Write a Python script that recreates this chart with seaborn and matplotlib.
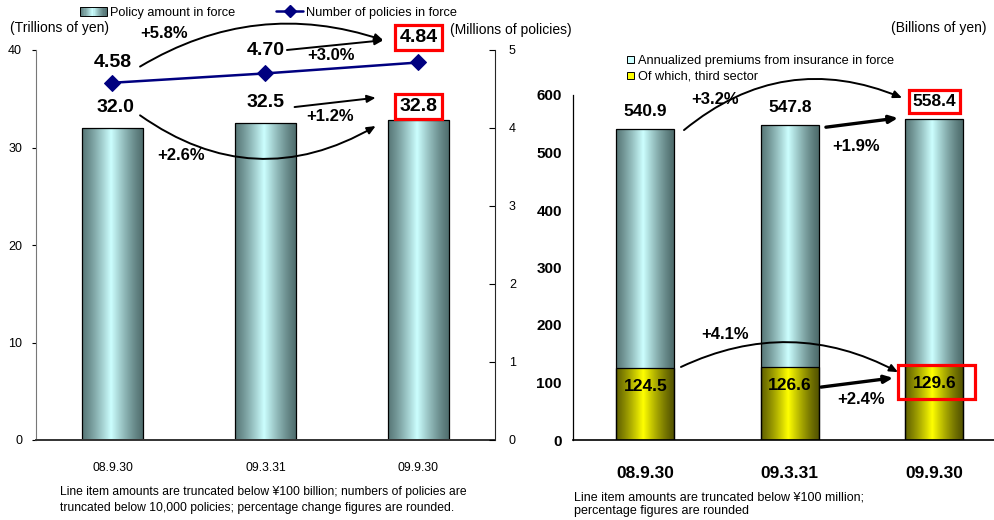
import numpy as np
import pandas as pd
import matplotlib
matplotlib.use('Agg')
import matplotlib.pyplot as plt
import seaborn as sns
from matplotlib.patches import Rectangle, Patch
from matplotlib.lines import Line2D
from matplotlib.legend_handler import HandlerBase
from matplotlib.colors import to_rgb

# data
dates = ['08.9.30', '09.3.31', '09.9.30']
policy_amount = [32.0, 32.5, 32.8]        # trillions of yen
policy_count = [4.58, 4.70, 4.84]         # millions of policies
annual_premiums = [540.9, 547.8, 558.4]   # billions of yen
third_sector = [124.5, 126.6, 129.6]      # billions of yen
amount_changes = ['+2.6%', '+1.2%']       # from 08.9.30, from 09.3.31
count_changes = ['+5.8%', '+3.0%']
premium_changes = ['+3.2%', '+1.9%']
third_changes = ['+4.1%', '+2.4%']

TEAL_DARK, TEAL_LIGHT = '#4f6d6d', '#ccffff'
YEL_DARK, YEL_LIGHT = '#555500', '#ffff00'

sns.set_style('white')
plt.rcParams['font.family'] = ['Liberation Sans', 'DejaVu Sans']
for k in ['text.color', 'axes.labelcolor', 'xtick.color', 'ytick.color']:
    plt.rcParams[k] = 'black'


def shade(t, dark, light):
    # light band a little left of centre, dark at both edges
    w = np.clip(1 - np.abs((t - 0.47) / 0.53), 0, 1) ** 1.25
    d, l = np.array(to_rgb(dark)), np.array(to_rgb(light))
    return d[None, :] * (1 - w[:, None]) + l[None, :] * w[:, None]


def gradient_bars(ax, patches, dark, light):
    for p in patches:
        x0, y0, w, h = p.get_x(), p.get_y(), p.get_width(), p.get_height()
        grad = shade(np.linspace(0, 1, 200), dark, light)[None, :, :]
        im = ax.imshow(grad, extent=[x0, x0 + w, y0, y0 + h], aspect='auto',
                       zorder=p.get_zorder(), interpolation='bilinear')
        im.set_clip_path(p)
        p.set_facecolor('none')
        p.set_edgecolor('black')
        p.set_linewidth(0.9)
        p.set_zorder(p.get_zorder() + 0.1)


class GradientHandler(HandlerBase):
    def __init__(self, dark, light, **kw):
        super().__init__(**kw)
        self.dark, self.light = dark, light

    def create_artists(self, legend, orig_handle, xdescent, ydescent,
                       width, height, fontsize, trans):
        n = 24
        cols = shade((np.arange(n) + 0.5) / n, self.dark, self.light)
        arts = [Rectangle((-xdescent + i * width / n, -ydescent), width / n, height,
                          facecolor=cols[i], edgecolor='none', transform=trans)
                for i in range(n)]
        arts.append(Rectangle((-xdescent, -ydescent), width, height, facecolor='none',
                              edgecolor='black', lw=0.7, transform=trans))
        return arts


def arrow(ax, start, end, rad=0.0, lw=1.4):
    ax.annotate('', xy=end, xytext=start, annotation_clip=False,
                arrowprops=dict(arrowstyle='-|>,head_length=0.5,head_width=0.22',
                                connectionstyle=f'arc3,rad={rad}', color='black',
                                lw=lw, shrinkA=0, shrinkB=0))


red_box = dict(boxstyle='square,pad=0.22', facecolor='white', edgecolor='#ff0000', lw=2.3)

fig = plt.figure(figsize=(9.95, 5.2), dpi=100)

# ---------------- left chart ----------------
ax1 = fig.add_axes([36 / 995, 80 / 520, 459 / 995, 390 / 520])
df_left = pd.DataFrame({'date': dates, 'amount': policy_amount, 'count': policy_count})
sns.barplot(data=df_left, x='date', y='amount', ax=ax1, width=0.4, color=TEAL_LIGHT)
gradient_bars(ax1, ax1.patches, TEAL_DARK, TEAL_LIGHT)
ax1.set_xlim(-0.5, 2.5)
ax1.set_ylim(0, 40)
ax1.set_yticks([0, 10, 20, 30, 40])
ax1.set_xlabel('')
ax1.set_ylabel('')
ax1.tick_params(axis='y', labelsize=9, length=3, direction='out', pad=7)
ax1.tick_params(axis='x', labelsize=8.7, length=0, pad=16)
ax1.set_xticks([0.5, 1.5], minor=True)
ax1.tick_params(axis='x', which='minor', direction='in', length=5, width=0.8, color='#333333')
for s in ['top', 'right']:
    ax1.spines[s].set_visible(False)
ax1.spines['left'].set_color('#777777')
ax1.spines['left'].set_linewidth(0.8)
ax1.spines['bottom'].set_color('#333333')
ax1.spines['bottom'].set_linewidth(1.4)

ax2 = ax1.twinx()
sns.lineplot(x=np.arange(len(dates)), y=df_left['count'], ax=ax2, color='#000080',
             marker='D', markersize=8, markeredgecolor='#000080', linewidth=1.8)
ax2.set_ylim(0, 5)
ax2.set_xlim(-0.5, 2.5)
ax2.set_ylabel('')
ax2.tick_params(axis='y', labelsize=9, length=4, direction='in', pad=10)
for s in ['top', 'left', 'bottom']:
    ax2.spines[s].set_visible(False)
ax2.spines['right'].set_linewidth(0.8)

# value labels
for i, v in enumerate(policy_amount):
    off = 10 if i == 2 else 14.5
    ax1.annotate(f'{v:.1f}', xy=(i, v), xytext=(2 if i == 0 else 0, off),
                 textcoords='offset points', ha='center', va='center',
                 fontsize=14, fontweight='bold', annotation_clip=False,
                 bbox=red_box if i == 2 else None)
for i, v in enumerate(policy_count):
    off = [14.5, 16.5, 18][i]
    ax2.annotate(f'{v:.2f}', xy=(i, v), xytext=(0, off), textcoords='offset points',
                 ha='center', va='center', fontsize=14, fontweight='bold',
                 annotation_clip=False, bbox=red_box if i == 2 else None)

# change arrows (left axes data coords)
arrow(ax1, (0.18, 38.3), (1.77, 41.0), rad=-0.23)
arrow(ax1, (1.14, 40.0), (1.77, 41.0))
arrow(ax1, (1.19, 34.15), (1.72, 35.1))
arrow(ax1, (0.18, 33.3), (1.72, 32.2), rad=0.32)
pct_kw = dict(ha='center', va='center', fontsize=12, fontweight='bold')
ax1.text(0.337, 41.7, count_changes[0], **pct_kw)
ax1.text(1.43, 39.4, count_changes[1], **pct_kw)
ax1.text(1.42, 33.2, amount_changes[1], **pct_kw)
ax1.text(0.45, 29.2, amount_changes[0], **pct_kw)

fig.legend(handles=[Patch(facecolor=TEAL_LIGHT),
                    Line2D([], [], color='#000080', marker='D', markersize=6, lw=1.8)],
           labels=['Policy amount in force', 'Number of policies in force'],
           handler_map={Patch: GradientHandler(TEAL_DARK, TEAL_LIGHT)},
           loc='center left', bbox_to_anchor=(80 / 995, 1 - 13 / 520), ncol=2,
           frameon=False, fontsize=9.2, handlelength=2.1, handleheight=0.75,
           handletextpad=0.25, columnspacing=3.2, borderpad=0, borderaxespad=0)

fig.text(10 / 995, 1 - 28 / 520, '(Trillions of yen)', fontsize=10, va='center')
fig.text(450 / 995, 1 - 30 / 520, '(Millions of policies)', fontsize=10, va='center')
fig.text(60 / 995, 1 - 500 / 520,
         'Line item amounts are truncated below \u00a5100 billion; numbers of policies are\n'
         'truncated below 10,000 policies; percentage change figures are rounded.',
         fontsize=8.7, va='center', linespacing=1.35)

# ---------------- right chart ----------------
ax3 = fig.add_axes([573 / 995, 80 / 520, 422 / 995, 345 / 520])
df_right = pd.DataFrame({'date': dates, 'premiums': annual_premiums, 'third': third_sector})
sns.barplot(data=df_right, x='date', y='premiums', ax=ax3, width=0.4, color=TEAL_LIGHT)
n_first = len(ax3.patches)
sns.barplot(data=df_right, x='date', y='third', ax=ax3, width=0.4, color=YEL_LIGHT)
gradient_bars(ax3, ax3.patches[:n_first], TEAL_DARK, TEAL_LIGHT)
gradient_bars(ax3, ax3.patches[n_first:], YEL_DARK, YEL_LIGHT)
ax3.set_xlim(-0.5, 2.42)
ax3.set_ylim(0, 600)
ax3.set_yticks(range(0, 601, 100))
ax3.set_xlabel('')
ax3.set_ylabel('')
ax3.tick_params(axis='y', labelsize=11, length=4, direction='out', pad=4)
ax3.tick_params(axis='x', labelsize=12.5, length=0, pad=19)
for lab in ax3.get_xticklabels() + ax3.get_yticklabels():
    lab.set_fontweight('bold')
ax3.set_xticks([0.5, 1.5], minor=True)
ax3.tick_params(axis='x', which='minor', direction='in', length=5, width=0.8)
for s in ['top', 'right']:
    ax3.spines[s].set_visible(False)
ax3.spines['left'].set_linewidth(0.9)
ax3.spines['bottom'].set_linewidth(1.2)
ax3.spines['left'].set_color('black')
ax3.spines['bottom'].set_color('black')

for i, v in enumerate(annual_premiums):
    ax3.annotate(f'{v:.1f}', xy=(i, v), xytext=(0, 12.5), textcoords='offset points',
                 ha='center', va='center', fontsize=12.5, fontweight='bold',
                 annotation_clip=False, bbox=red_box if i == 2 else None)
for i, v in enumerate(third_sector):
    ax3.annotate(f'{v:.1f}', xy=(i, v), xytext=(0, -13), textcoords='offset points',
                 ha='center', va='center', fontsize=12.5, fontweight='bold',
                 annotation_clip=False, zorder=5)
# red frame around the latest third-sector figure (wider than the bar)
last = len(third_sector) - 1
ax3.add_patch(Rectangle((last - 0.251, third_sector[-1] - 58), 0.533, 59,
                        facecolor='none', edgecolor='#ff0000', lw=2.3, zorder=6,
                        clip_on=False))

arrow(ax3, (0.268, 539), (1.777, 595), rad=-0.3)
arrow(ax3, (1.25, 544), (1.749, 560), lw=2.4)
arrow(ax3, (0.247, 127), (1.749, 118), rad=-0.25)
arrow(ax3, (1.216, 92), (1.715, 108), lw=2.4)
ax3.text(0.483, 593, premium_changes[0], **pct_kw)
ax3.text(1.46, 511, premium_changes[1], **pct_kw)
ax3.text(0.552, 183, third_changes[0], **pct_kw)
ax3.text(1.49, 71, third_changes[1], **pct_kw)

ax3.legend(handles=[Patch(facecolor=TEAL_LIGHT, edgecolor='black', lw=0.7),
                    Patch(facecolor=YEL_LIGHT, edgecolor='black', lw=0.7)],
           labels=['Annualized premiums from insurance in force', 'Of which, third sector'],
           loc='center left', bbox_to_anchor=(627 / 995, 1 - 69 / 520),
           bbox_transform=fig.transFigure, frameon=False, fontsize=9.2,
           handlelength=0.55, handleheight=0.55, handletextpad=0.35, labelspacing=0.3,
           borderpad=0, borderaxespad=0)

fig.text(987 / 995, 1 - 28 / 520, '(Billions of yen)', fontsize=10, va='center', ha='right')
fig.text(574 / 995, 1 - 504 / 520,
         'Line item amounts are truncated below \u00a5100 million;\n'
         'percentage figures are rounded',
         fontsize=9, va='center', linespacing=1.15)

fig.savefig('out.png', dpi=100)
